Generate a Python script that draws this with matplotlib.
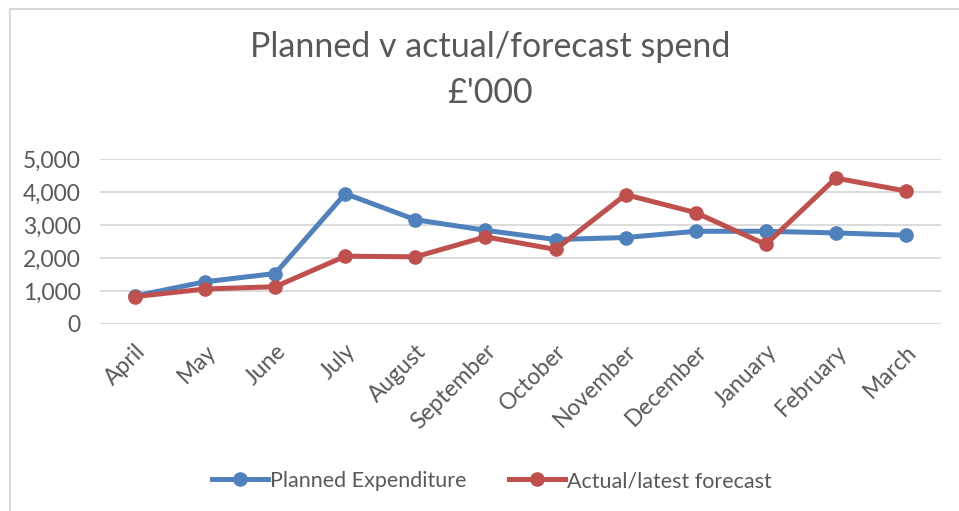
import matplotlib
matplotlib.use("Agg")
import matplotlib.pyplot as plt
from matplotlib.lines import Line2D

# ── data (£'000) ──────────────────────────────────────────────────────────────
months = ["April", "May", "June", "July", "August", "September", "October",
          "November", "December", "January", "February", "March"]
planned = [850, 1280, 1530, 3950, 3160, 2840, 2560, 2620, 2810, 2810, 2760, 2690]
actual = [830, 1060, 1130, 2055, 2035, 2640, 2260, 3920, 3375, 2410, 4420, 4030]

BLUE = "#4F81BD"
RED = "#C0504D"
GREY = "#595959"

plt.rcParams.update({
    "font.family": ["Lato", "DejaVu Sans"],
    "text.color": GREY,
})

fig = plt.figure(figsize=(9.59, 5.11), dpi=100)
ax = fig.add_axes([100 / 959, 1 - 324 / 511, 841 / 959, 165 / 511])

x = range(len(months))
ax.plot(x, planned, "-o", color=BLUE, lw=3.6, ms=9.5, clip_on=False,
        label="Planned Expenditure", zorder=3)
ax.plot(x, actual, "-o", color=RED, lw=3.6, ms=9.5, clip_on=False,
        label="Actual/latest forecast", zorder=4)

ax.set_xlim(-0.5, len(months) - 0.5)
ax.set_ylim(0, 5000)
ax.set_yticks(range(0, 5001, 1000))
ax.yaxis.set_major_formatter(matplotlib.ticker.FuncFormatter(lambda v, _: f"{int(v):,}"))
ax.set_xticks(list(x))
ax.set_xticklabels(months, rotation=45, ha="right", rotation_mode="anchor")
ax.tick_params(length=0, labelsize=16.5, colors=GREY)
ax.tick_params(axis="x", pad=12)
ax.tick_params(axis="y", pad=14)
ax.grid(axis="y", color="#D9D9D9", lw=1.3)
ax.set_axisbelow(True)
for s in ax.spines.values():
    s.set_visible(False)

fig.text(0.511, 1 - 47 / 511, "Planned v actual/forecast spend", ha="center",
         va="center", fontsize=24.5, color=GREY)
fig.text(0.511, 1 - 93 / 511, "£'000", ha="center", va="center",
         fontsize=24.5, color=GREY)

fig.legend(loc="center", bbox_to_anchor=(0.513, 1 - 481 / 511), ncol=2,
           frameon=False, fontsize=15.5, handlelength=2.6, columnspacing=2.0,
           handletextpad=0.1)

# outer chart border (top and left edges visible)
fig.add_artist(Line2D([9.5 / 959, 9.5 / 959], [0, 1 - 9.5 / 511],
                      color="#D9D9D9", lw=1.5, transform=fig.transFigure))
fig.add_artist(Line2D([9.5 / 959, 1], [1 - 9.5 / 511, 1 - 9.5 / 511],
                      color="#D9D9D9", lw=1.5, transform=fig.transFigure))

fig.savefig("out.png", dpi=100)
